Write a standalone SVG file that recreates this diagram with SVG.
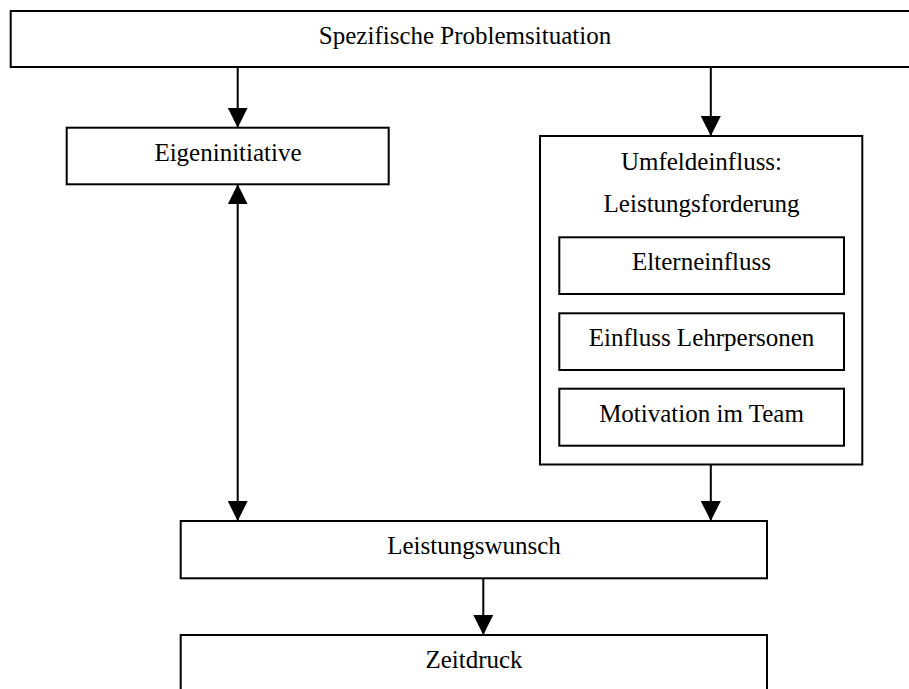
<svg xmlns="http://www.w3.org/2000/svg" width="909" height="689" viewBox="0 0 909 689">
<style>
.box{fill:#fff;stroke:#000;stroke-width:2}
.lbl{font-family:"Liberation Serif","Times New Roman",serif;font-size:25px;fill:#000;text-anchor:middle}
.con{stroke:#000;stroke-width:2;fill:none}
</style>
<defs>
<marker id="ah" markerUnits="userSpaceOnUse" markerWidth="20" markerHeight="20" viewBox="0 0 20 20" refX="20" refY="10" orient="auto-start-reverse">
<path d="M0,0 L20,10 L0,20 z" fill="#000"/>
</marker>
</defs>
<rect width="909" height="689" fill="#fff"/>
<g id="n-problem">
<rect class="box" x="10.7" y="11" width="910" height="56"/>
<text class="lbl" x="465" y="43.5">Spezifische Problemsituation</text>
</g>
<g id="n-eigen">
<rect class="box" x="66.7" y="127.7" width="322" height="56.6"/>
<text class="lbl" x="228" y="160.7">Eigeninitiative</text>
</g>
<g id="n-umfeld">
<rect class="box" x="540" y="136" width="322.3" height="328.5"/>
<text class="lbl" x="701.5" y="170">Umfeldeinfluss:</text>
<text class="lbl" x="701.5" y="211.7">Leistungsforderung</text>
</g>
<g id="n-eltern">
<rect class="box" x="559.3" y="237.3" width="284.7" height="56.7"/>
<text class="lbl" x="701.5" y="270">Elterneinfluss</text>
</g>
<g id="n-lehr">
<rect class="box" x="559.3" y="313.3" width="284.7" height="56.7"/>
<text class="lbl" x="701.5" y="346">Einfluss Lehrpersonen</text>
</g>
<g id="n-team">
<rect class="box" x="559.3" y="388.7" width="284.7" height="57"/>
<text class="lbl" x="701.5" y="421.7">Motivation im Team</text>
</g>
<g id="n-wunsch">
<rect class="box" x="180.7" y="521" width="586.3" height="57.3"/>
<text class="lbl" x="474" y="554.3">Leistungswunsch</text>
</g>
<g id="n-zeit">
<rect class="box" x="180.7" y="635" width="586.3" height="70"/>
<text class="lbl" x="474" y="667.7">Zeitdruck</text>
</g>
<g id="connectors">
<line class="con" x1="237.7" y1="67" x2="237.7" y2="127.7" marker-end="url(#ah)"/>
<line class="con" x1="710.8" y1="67" x2="710.8" y2="136" marker-end="url(#ah)"/>
<line class="con" x1="237.7" y1="184.3" x2="237.7" y2="521" marker-start="url(#ah)" marker-end="url(#ah)"/>
<line class="con" x1="710.8" y1="464.5" x2="710.8" y2="521" marker-end="url(#ah)"/>
<line class="con" x1="483.3" y1="578.3" x2="483.3" y2="635" marker-end="url(#ah)"/>
</g>
</svg>
